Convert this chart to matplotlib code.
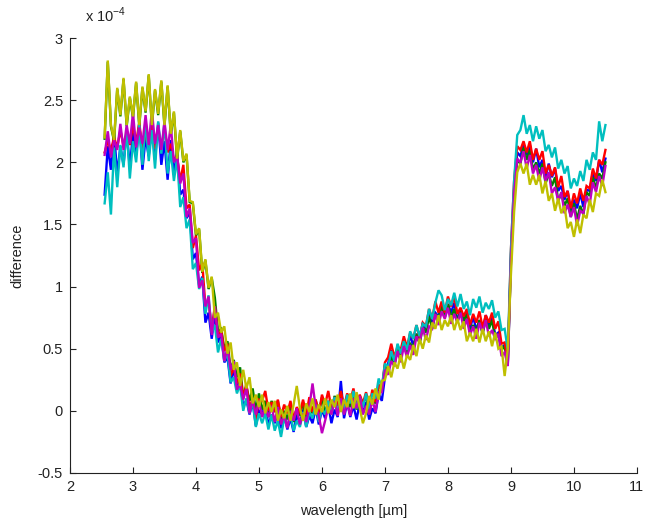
"""Difference spectra for six runs, drawn MATLAB-style (b, g, r, c, m, y)."""

import matplotlib

matplotlib.use("Agg")
import matplotlib.pyplot as plt
import numpy as np

# wavelength samples [um], 2.55 .. 10.50 in 0.05 steps
wavelength = np.round(np.arange(2.55, 10.5001, 0.05), 2)

# differences in units of 1e-4
diff_b = [
    1.74, 2.13, 1.94, 2.24, 1.90, 2.13, 1.98, 2.26, 1.95, 2.24,
    2.06, 2.32, 1.94, 2.20, 2.05, 2.32, 2.02, 2.32, 1.98, 2.17,
    1.86, 2.18, 1.90, 2.09, 1.74, 1.78, 1.55, 1.60, 1.22, 1.27,
    1.01, 1.08, 0.71, 0.79, 0.58, 0.79, 0.55, 0.63, 0.39, 0.43,
    0.22, 0.34, 0.18, 0.26, 0.03, 0.09, -0.03, 0.07, -0.12, 0.00,
    -0.03, 0.05, -0.12, -0.03, -0.10, -0.01, -0.14, -0.02, -0.15, -0.06,
    -0.17, -0.03, -0.10, 0.01, -0.13, -0.04, -0.10, 0.02, -0.11, 0.01,
    -0.06, 0.05, -0.10, 0.01, -0.05, 0.24, -0.06, 0.07, -0.05, 0.04,
    -0.07, 0.07, -0.02, 0.07, -0.07, 0.02, -0.02, 0.14, 0.08, 0.27,
    0.38, 0.49, 0.38, 0.49, 0.45, 0.57, 0.48, 0.61, 0.52, 0.62,
    0.55, 0.71, 0.66, 0.79, 0.69, 0.79, 0.76, 0.86, 0.76, 0.86,
    0.79, 0.87, 0.73, 0.80, 0.72, 0.79, 0.66, 0.76, 0.65, 0.73,
    0.63, 0.77, 0.69, 0.76, 0.61, 0.63, 0.51, 0.53, 0.38, 1.25,
    1.78, 2.08, 2.05, 2.14, 2.06, 2.14, 2.00, 2.11, 1.96, 2.02,
    1.88, 1.99, 1.88, 1.95, 1.77, 1.81, 1.70, 1.77, 1.61, 1.70,
    1.63, 1.75, 1.64, 1.78, 1.77, 1.92, 1.85, 2.02, 1.92, 2.03,
]
diff_g = [
    2.19, 2.81, 2.29, 2.17, 2.59, 2.37, 2.67, 2.29, 2.52, 2.36,
    2.64, 2.29, 2.60, 2.40, 2.70, 2.29, 2.58, 2.38, 2.65, 2.29,
    2.61, 2.22, 2.40, 2.02, 2.25, 2.00, 2.06, 1.68, 1.67, 1.41,
    1.46, 1.11, 1.21, 0.98, 1.07, 0.91, 0.64, 0.66, 0.50, 0.56,
    0.33, 0.41, 0.27, 0.35, 0.11, 0.20, 0.08, 0.18, 0.00, 0.14,
    0.01, 0.08, -0.05, 0.08, -0.01, 0.08, -0.07, 0.00, -0.07, 0.04,
    -0.09, 0.02, -0.04, 0.07, -0.08, 0.03, -0.02, 0.09, -0.03, 0.11,
    -0.02, 0.08, -0.03, 0.12, 0.04, 0.15, 0.01, 0.09, 0.03, 0.14,
    0.01, 0.12, 0.04, 0.13, -0.02, 0.09, 0.06, 0.21, 0.16, 0.37,
    0.34, 0.44, 0.36, 0.51, 0.45, 0.56, 0.45, 0.54, 0.51, 0.62,
    0.54, 0.67, 0.63, 0.76, 0.66, 0.78, 0.74, 0.85, 0.75, 0.86,
    0.75, 0.82, 0.71, 0.82, 0.72, 0.78, 0.63, 0.69, 0.64, 0.73,
    0.62, 0.73, 0.66, 0.73, 0.58, 0.62, 0.49, 0.52, 0.37, 1.20,
    1.72, 2.02, 1.99, 2.12, 2.02, 2.10, 1.94, 2.00, 1.91, 1.99,
    1.83, 1.91, 1.81, 1.88, 1.69, 1.75, 1.65, 1.71, 1.56, 1.67,
    1.54, 1.65, 1.58, 1.76, 1.73, 1.88, 1.79, 1.91, 1.87, 2.00,
]
diff_r = [
    2.08, 2.17, 2.10, 2.20, 2.12, 2.26, 2.13, 2.23, 2.14, 2.30,
    2.16, 2.32, 2.10, 2.22, 2.14, 2.30, 2.11, 2.26, 2.13, 2.26,
    2.08, 2.15, 2.02, 2.05, 1.85, 1.98, 1.63, 1.66, 1.31, 1.41,
    1.13, 1.19, 0.84, 0.88, 0.67, 0.84, 0.59, 0.65, 0.48, 0.54,
    0.28, 0.35, 0.22, 0.30, 0.10, 0.22, 0.02, 0.10, -0.07, 0.09,
    0.08, 0.16, 0.00, 0.07, -0.01, 0.09, -0.05, 0.05, -0.02, 0.08,
    -0.07, 0.03, -0.02, 0.09, -0.03, 0.11, -0.01, 0.09, -0.02, 0.13,
    0.05, 0.16, 0.02, 0.11, 0.04, 0.16, 0.03, 0.14, 0.08, 0.18,
    0.03, 0.13, 0.06, 0.15, 0.03, 0.17, 0.07, 0.21, 0.17, 0.39,
    0.43, 0.54, 0.43, 0.52, 0.49, 0.60, 0.51, 0.63, 0.58, 0.69,
    0.59, 0.71, 0.68, 0.82, 0.74, 0.88, 0.79, 0.88, 0.79, 0.92,
    0.84, 0.92, 0.78, 0.83, 0.76, 0.82, 0.69, 0.78, 0.71, 0.80,
    0.67, 0.77, 0.71, 0.79, 0.66, 0.72, 0.54, 0.55, 0.41, 1.30,
    1.85, 2.13, 2.10, 2.17, 2.08, 2.17, 2.02, 2.11, 2.02, 2.09,
    1.91, 1.98, 1.89, 1.96, 1.80, 1.89, 1.72, 1.77, 1.63, 1.75,
    1.67, 1.79, 1.69, 1.81, 1.79, 1.95, 1.87, 2.02, 1.98, 2.10,
]
diff_c = [
    1.67, 1.92, 1.58, 2.12, 1.80, 2.14, 1.96, 2.28, 1.87, 2.17,
    2.00, 2.30, 1.98, 2.34, 2.01, 2.26, 1.95, 2.33, 2.07, 2.33,
    1.91, 2.09, 1.85, 2.04, 1.64, 1.72, 1.47, 1.54, 1.14, 1.19,
    0.98, 1.07, 0.78, 0.93, 0.63, 0.69, 0.47, 0.58, 0.40, 0.47,
    0.23, 0.27, 0.14, 0.21, 0.00, 0.10, -0.02, 0.08, -0.13, -0.02,
    -0.10, -0.02, -0.15, -0.03, -0.16, -0.08, -0.21, -0.06, -0.13, -0.03,
    -0.16, -0.08, -0.13, -0.01, -0.13, -0.01, -0.06, 0.05, -0.09, 0.02,
    -0.03, 0.08, -0.03, 0.11, -0.02, 0.09, -0.02, 0.13, 0.06, 0.16,
    0.02, 0.11, 0.03, 0.14, 0.01, 0.14, 0.10, 0.26, 0.19, 0.38,
    0.35, 0.48, 0.40, 0.54, 0.46, 0.56, 0.49, 0.64, 0.58, 0.69,
    0.60, 0.70, 0.68, 0.82, 0.74, 0.87, 0.97, 0.93, 0.81, 0.90,
    0.85, 0.95, 0.84, 0.94, 0.82, 0.88, 0.77, 0.90, 0.83, 0.92,
    0.79, 0.87, 0.82, 0.89, 0.75, 0.80, 0.65, 0.66, 0.49, 1.30,
    1.85, 2.22, 2.26, 2.38, 2.23, 2.30, 2.17, 2.29, 2.19, 2.26,
    2.09, 2.14, 2.04, 2.12, 1.95, 2.02, 1.91, 1.97, 1.79, 1.87,
    1.81, 1.93, 1.85, 2.02, 1.94, 2.08, 2.02, 2.33, 2.17, 2.30,
]
diff_m = [
    2.06, 2.25, 2.04, 2.18, 2.10, 2.31, 2.10, 2.30, 2.15, 2.40,
    2.12, 2.28, 2.15, 2.38, 2.14, 2.42, 2.15, 2.30, 2.10, 2.33,
    2.10, 2.30, 2.00, 2.05, 1.83, 1.91, 1.56, 1.63, 1.35, 1.39,
    0.99, 1.05, 0.84, 0.92, 0.61, 0.84, 0.59, 0.62, 0.40, 0.51,
    0.33, 0.40, 0.17, 0.22, 0.09, 0.18, -0.02, 0.09, -0.03, 0.08,
    -0.05, 0.03, -0.05, 0.04, -0.09, 0.03, -0.11, -0.03, -0.14, 0.00,
    -0.08, 0.02, -0.11, -0.02, -0.09, 0.03, 0.22, 0.03, -0.04, -0.18,
    -0.08, 0.03, -0.03, 0.08, -0.04, 0.10, -0.03, 0.06, -0.04, 0.10,
    0.02, 0.12, -0.03, 0.04, -0.03, 0.09, -0.01, 0.15, 0.15, 0.33,
    0.29, 0.40, 0.36, 0.48, 0.39, 0.52, 0.43, 0.53, 0.45, 0.60,
    0.55, 0.67, 0.57, 0.68, 0.66, 0.78, 0.69, 0.80, 0.74, 0.83,
    0.70, 0.78, 0.71, 0.79, 0.66, 0.74, 0.61, 0.68, 0.58, 0.71,
    0.63, 0.73, 0.60, 0.65, 0.58, 0.62, 0.44, 0.47, 0.36, 1.20,
    1.75, 2.03, 2.00, 2.09, 1.95, 2.06, 1.91, 1.98, 1.85, 1.96,
    1.85, 1.92, 1.75, 1.80, 1.69, 1.76, 1.59, 1.66, 1.56, 1.64,
    1.49, 1.61, 1.59, 1.73, 1.66, 1.84, 1.76, 1.89, 1.81, 1.97,
]
diff_y = [
    2.20, 2.82, 2.30, 2.18, 2.60, 2.38, 2.68, 2.30, 2.53, 2.37,
    2.65, 2.30, 2.61, 2.41, 2.71, 2.30, 2.59, 2.39, 2.66, 2.30,
    2.62, 2.23, 2.41, 2.03, 2.26, 2.01, 2.07, 1.69, 1.68, 1.42,
    1.47, 1.12, 1.22, 0.99, 1.08, 0.75, 0.79, 0.63, 0.68, 0.46,
    0.55, 0.33, 0.39, 0.20, 0.33, 0.18, 0.27, 0.06, 0.13, 0.03,
    0.13, -0.02, 0.07, -0.01, 0.08, -0.08, 0.01, -0.06, 0.04, -0.08,
    0.05, 0.20, 0.02, -0.08, 0.06, -0.01, 0.10, -0.03, 0.05, -0.01,
    0.10, -0.02, 0.09, 0.03, 0.13, -0.01, 0.09, 0.03, 0.14, 0.02,
    0.15, 0.02, -0.10, -0.02, 0.12, 0.05, 0.18, 0.09, 0.24, 0.25,
    0.36, 0.27, 0.39, 0.34, 0.45, 0.34, 0.45, 0.41, 0.53, 0.44,
    0.58, 0.50, 0.61, 0.55, 0.71, 0.66, 0.77, 0.65, 0.73, 0.68,
    0.77, 0.65, 0.74, 0.65, 0.72, 0.56, 0.63, 0.56, 0.66, 0.55,
    0.66, 0.56, 0.64, 0.52, 0.63, 0.50, 0.52, 0.28, 0.50, 1.10,
    1.60, 1.92, 1.99, 1.91, 1.99, 1.82, 1.90, 1.82, 1.90, 1.75,
    1.85, 1.69, 1.75, 1.61, 1.71, 1.59, 1.65, 1.47, 1.52, 1.40,
    1.54, 1.43, 1.58, 1.55, 1.70, 1.60, 1.75, 1.73, 1.86, 1.76,
]

series = [diff_b, diff_g, diff_r, diff_c, diff_m, diff_y]
# MATLAB's default line colours, in plotting order
colors = [(0, 0, 1), (0, 0.5, 0), (1, 0, 0), (0, 0.75, 0.75), (0.75, 0, 0.75), (0.75, 0.75, 0)]

x_ticks = [2, 3, 4, 5, 6, 7, 8, 9, 10, 11]
y_ticks = [-0.5, 0, 0.5, 1, 1.5, 2, 2.5, 3]

plt.rcParams["font.family"] = ["Liberation Sans", "DejaVu Sans"]
plt.rcParams["axes.unicode_minus"] = False

FS = 10.5
INK = "#222222"

fig = plt.figure(figsize=(6.45, 5.22), dpi=100)
ax = fig.add_axes([0.1085, 0.094, 0.879, 0.833])

for vals, col in zip(series, colors):
    ax.plot(wavelength, vals, color=col, lw=1.7, solid_joinstyle="miter")

ax.set_xlim(2, 11)
ax.set_ylim(-0.5, 3)
ax.set_xticks(x_ticks)
ax.set_yticks(y_ticks)
ax.set_yticklabels([f"{v:g}" for v in y_ticks])

for side in ("top", "right"):
    ax.spines[side].set_visible(False)
for side in ("left", "bottom"):
    ax.spines[side].set_linewidth(0.8)
    ax.spines[side].set_color(INK)
ax.tick_params(direction="in", length=4, width=0.8, colors=INK,
               labelsize=FS, pad=5)

ax.set_xlabel("wavelength [\u00b5m]", fontsize=FS, color=INK, labelpad=7)
ax.set_ylabel("difference", fontsize=FS, color=INK, labelpad=10)

# exponent of the y axis, written above the axis like MATLAB does
ax.text(0.027, 1.03, "x 10$^{\\mathregular{-4}}$", transform=ax.transAxes,
        fontsize=FS, color=INK, ha="left", va="bottom")

fig.savefig("out.png", dpi=100)
plt.close(fig)
